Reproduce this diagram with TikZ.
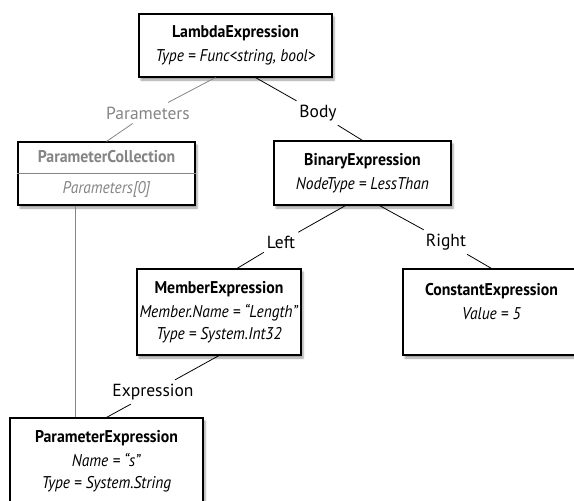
\documentclass[tikz,border=0pt]{standalone}
\usepackage{fontspec}
\setmainfont{PT Sans}[BoldFeatures={FakeStretch=0.93}, ItalicFeatures={FakeStretch=0.91}]
\usepackage{tikz}
\usetikzlibrary{shadows.blur}
\definecolor{dimgray}{gray}{0.52}
\tikzstyle{block} = [rectangle, draw, fill=white, line width=1.1pt, align=center,
    inner sep=0pt, font=\fontsize{17}{22}\selectfont,
    blur shadow={shadow xshift=2pt, shadow yshift=-3pt}]
\tikzstyle{edgelabel} = [inner xsep=3pt, inner ysep=4pt, font=\fontsize{17.5}{22}\selectfont]
\tikzstyle{link} = [draw, line width=0.8pt]

\begin{document}
\begin{tikzpicture}
    \useasboundingbox (0,0) rectangle (574pt,-501pt);
    % Place nodes
    \node [block, minimum width=193pt, minimum height=63pt] (lambda) at (235.5pt,-45.5pt)
        {\textbf{LambdaExpression}\\[2pt]\textit{Type = Func<string, bool>}};
    \node [edgelabel, text=dimgray, below of=lambda, node distance=67.5pt, xshift=-87.5pt] (params) {Parameters};
    \node [edgelabel, below of=lambda, node distance=67.5pt, xshift=82.5pt] (body) {Body};
    \node [block, text=dimgray, minimum width=177pt, minimum height=63pt,
        below of=params, node distance=60.5pt, xshift=-41.5pt] (pcoll)
        {\textbf{ParameterCollection}\\[9pt]\textit{Parameters[0]}};
    \node [block, minimum width=177pt, minimum height=64pt,
        below of=body, node distance=60pt, xshift=44.5pt] (binary)
        {\textbf{BinaryExpression}\\[2pt]\textit{NodeType = LessThan}};
    \node [edgelabel, below of=binary, node distance=69pt, xshift=-81.5pt] (left) {Left};
    \node [edgelabel, below of=binary, node distance=69pt, xshift=83.5pt] (right) {Right};
    \node [block, minimum width=164pt, minimum height=86pt,
        below of=left, node distance=70pt, xshift=-62pt] (member)
        {\textbf{MemberExpression}\\[2pt]\textit{Member.Name = “Length”}\\\textit{Type = System.Int32}};
    \node [block, minimum width=177pt, minimum height=86pt,
        below of=right, node distance=70pt, xshift=45.5pt] (constant)
        {\textbf{ConstantExpression}\\[2pt]\textit{Value = 5}\\\mbox{}};
    \node [edgelabel, below of=member, node distance=80pt, xshift=-66pt] (expr) {Expression};
    \node [block, minimum width=193pt, minimum height=86pt,
        below of=expr, node distance=69pt, xshift=-46.5pt] (pexpr)
        {\textbf{ParameterExpression}\\[2pt]\textit{Name = “s”}\\\textit{Type = System.String}};
    % Draw edges
    \draw [dimgray, line width=0.8pt] (pcoll.west) -- (pcoll.east);
    \path [link, dimgray] ([xshift=-20pt]lambda.south) -- (params);
    \path [link] ([xshift=20pt]lambda.south) -- (body);
    \path [link, dimgray] (params) -- (pcoll.north);
    \path [link] (body) -- (binary.north);
    \path [link] ([xshift=-17pt]binary.south) -- (left);
    \path [link] ([xshift=17pt]binary.south) -- (right);
    \path [link] (left) -- ([xshift=18pt]member.north);
    \path [link] (right) -- (constant.north);
    \path [link] (member.south) -- (expr);
    \path [link] (expr) -- (pexpr.north);
    \path [link, dimgray] ([xshift=-31.5pt]pcoll.south) -- ([xshift=-31.5pt]pcoll.south |- pexpr.north);
\end{tikzpicture}
\end{document}
